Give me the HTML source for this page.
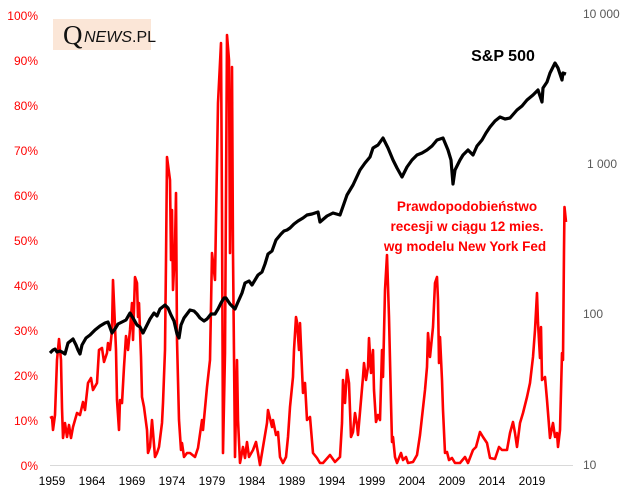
<!DOCTYPE html>
<html><head><meta charset="utf-8"><style>
html,body{margin:0;padding:0;background:#fff;}
svg{display:block;}
</style></head><body>
<svg width="625" height="496" viewBox="0 0 625 496" xmlns="http://www.w3.org/2000/svg">
<rect width="625" height="496" fill="#fff"/>
<!-- left axis -->
<g font-family="Liberation Sans, sans-serif" font-size="12" fill="#ff0000" text-anchor="end">
<text x="38" y="20">100%</text>
<text x="38" y="65">90%</text>
<text x="38" y="110">80%</text>
<text x="38" y="155">70%</text>
<text x="38" y="200">60%</text>
<text x="38" y="245">50%</text>
<text x="38" y="290">40%</text>
<text x="38" y="335">30%</text>
<text x="38" y="380">20%</text>
<text x="38" y="425">10%</text>
<text x="38" y="470">0%</text>
</g>
<g font-family="Liberation Sans, sans-serif" font-size="12" fill="#595959">
<text x="583" y="18">10 000</text>
<text x="587" y="168">1 000</text>
<text x="583" y="318" dx="0">100</text>
<text x="583" y="469">10</text>
</g>
<g font-family="Liberation Sans, sans-serif" font-size="12" fill="#000" text-anchor="middle">
<text x="52" y="485">1959</text><text x="92" y="485">1964</text><text x="132" y="485">1969</text>
<text x="172" y="485">1974</text><text x="212" y="485">1979</text><text x="252" y="485">1984</text>
<text x="292" y="485">1989</text><text x="332" y="485">1994</text><text x="372" y="485">1999</text>
<text x="412" y="485">2004</text><text x="452" y="485">2009</text><text x="492" y="485">2014</text>
<text x="532" y="485">2019</text>
</g>
<line x1="50" y1="465.5" x2="573" y2="465.5" stroke="#d9d9d9" stroke-width="1"/>
<!-- logo -->
<rect x="53" y="19" width="98" height="31" fill="#fbe6d7"/>
<text x="63" y="44" font-family="Liberation Serif, serif" font-size="27" fill="#111">Q</text>
<text x="84" y="42" font-family="Liberation Sans, sans-serif" font-size="16" fill="#111"><tspan font-style="italic">NEWS</tspan>.PL</text>
<!-- red series -->
<polyline fill="none" stroke="#ff0000" stroke-width="2.6" stroke-linejoin="round" points="
50,418 52,417 53,430 55,415 57,360 59,339 61,360 62,408 63,438 65,423 67,437 69,425 71,438 73,427 77,413 80,415 83,402 85,410 88,383 91,378 93,390 97,383 99,350 102,348 104,362 107,353 108,343 110,350 112,330 113,280 114,303 116,350 117,400 119,430 120,400 122,403 124,367 126,336 128,350 130,330 132,303 133,340 135,277 137,283 138,317 139,303 141,357 142,397 144,407 147,430 148,453 150,447 152,420 153,432 155,457 157,453 159,447 162,423 163,403 165,350 166,260 167,157 170,180 171,260 172,210 173,290 175,247 176,193 177,340 179,420 181,450 182,443 184,457 187,453 190,453 195,457 198,448 202,420 203,430 207,387 210,360 212,253 215,280 218,103 221,43 222,213 223,453 225,353 227,35 229,60 230,253 232,67 233,253 235,457 237,360 238,420 240,463 243,447 245,458 247,442 249,457 253,450 256,442 258,453 260,465 262,453 267,423 268,410 272,427 273,420 276,435 278,432 280,457 283,463 286,457 288,437 290,407 293,377 294,350 296,317 297,322 299,350 300,323 302,370 303,393 305,383 307,420 310,417 313,453 317,458 320,463 323,463 330,455 335,462 340,457 342,423 343,380 345,403 347,370 349,383 351,437 353,432 355,413 357,425 358,435 360,412 363,377 364,363 366,380 368,367 369,338 371,373 373,350 374,390 376,422 378,415 380,420 382,350 383,377 385,290 387,255 389,317 391,403 392,442 393,437 395,457 397,463 401,453 403,460 406,457 408,463 413,462 417,455 420,435 423,408 425,390 427,367 428,333 430,357 433,327 435,283 437,277 438,300 439,363 440,337 442,380 443,410 445,453 447,452 449,460 452,458 455,463 460,463 465,457 468,463 473,450 476,447 480,432 483,437 487,443 490,458 495,459 499,447 502,450 507,450 510,433 513,422 515,433 517,447 520,423 523,413 527,397 530,383 533,357 535,330 537,293 538,323 540,358 541,327 542,380 545,377 547,400 550,438 553,423 555,437 557,433 558,447 560,430 562,353 563,360 564,250 564.5,207 566,222"/>
<!-- S&P 500 -->
<polyline fill="none" stroke="#000" stroke-width="3.2" stroke-linejoin="round" points="
50,353 53,350 55,349 57,352 60,351 62,352 65,354 68,343 73,339 76,345 78,350 80,354 82,345 86,338 90,335 95,330 100,326 105,323 108,322 112,333 115,329 118,324 122,322 126,320 130,313 133,318 137,325 140,327 143,333 146,327 150,319 154,313 157,316 160,309 165,305 168,308 171,315 174,321 177,334 179,338 181,325 184,318 187,314 190,310 194,311 197,314 200,318 204,321 207,319 211,314 215,314 218,309 221,303 224,298 226,298 230,304 232,306 235,309 238,302 242,293 245,283 249,281 252,285 255,280 258,275 262,272 265,264 268,254 272,251 276,240 281,234 284,231 287,230 290,228 294,224 298,221 303,218 307,215 312,214 318,212 320,222 327,216 333,213 340,215 347,195 353,185 360,170 365,163 370,157 373,148 378,145 383,138 388,148 393,160 397,168 402,177 407,167 412,160 417,155 422,153 427,150 432,146 437,140 443,138 448,150 451,160 453,184 455,170 460,160 463,155 468,150 473,155 477,146 482,140 486,133 490,127 495,121 500,117 505,119 510,118 517,110 522,106 527,100 533,95 538,90 542,102 543,88 547,82 550,73 555,63 558,68 562,80 563,73 566,74"/>
<text x="503" y="61" font-family="Liberation Sans, sans-serif" font-size="16" font-weight="bold" text-anchor="middle" fill="#000">S&amp;P 500</text>
<g font-family="Liberation Sans, sans-serif" font-size="13.5" font-weight="bold" fill="#ff0000" text-anchor="middle">
<text x="467" y="211">Prawdopodobieństwo</text>
<text x="467" y="231">recesji w ciągu 12 mies.</text>
<text x="465" y="251">wg modelu New York Fed</text>
</g>
</svg>
</body></html>
